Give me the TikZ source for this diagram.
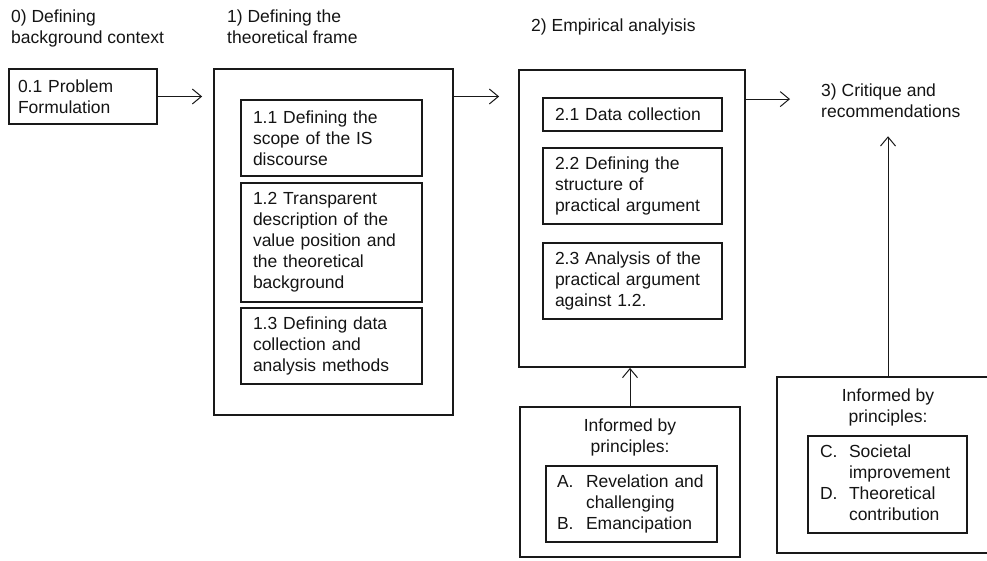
\documentclass[tikz,border=0pt]{standalone}
\usepackage{fontspec}
\setmainfont{Liberation Sans}
\usetikzlibrary{arrows.meta}
\begin{document}
\begin{tikzpicture}[x=1pt,y=-1pt,
  every node/.style={font=\fontsize{17.5}{21}\selectfont, text=black!92},
  obox/.style={draw=black!90, line width=1.8pt, inner sep=0pt, rectangle},
  ibox/.style={draw=black!90, line width=1.3pt, inner xsep=12pt, inner ysep=0pt, align=left},
  ttl/.style={inner sep=0pt, align=left, anchor=north west},
  hdr/.style={inner sep=0pt, align=center, anchor=north},
  arr/.style={draw=black!90, -{Straight Barb[length=9pt,width=15pt]}, line width=1pt}]
\useasboundingbox (0,0) rectangle (987,561);
\clip (0,0) rectangle (987,561);

% stage headings
\node[ttl] (t0) at (11,10) {0) Defining\\background context};
\node[ttl] (t1) at (227,10) {1) Defining the\\theoretical frame};
\node[ttl] (t2) at (531,19) {2) Empirical analyisis};
\node[ttl] (t3) at (821,84) {3) Critique and\\recommendations};

% 0) problem formulation
\node[ibox, inner xsep=9pt, minimum width=148pt, minimum height=55pt, text width=130pt]
  (p01) at (83,96.5) {0.1 Problem\\Formulation};

% 1) theoretical frame
\node[obox, minimum width=239pt, minimum height=346pt] (b1) at (333.5,242) {};
\node[ibox, minimum width=181pt, minimum height=76pt, text width=157pt]
  (b11) at (331.5,138) {1.1 Defining the\\scope of the IS\\discourse};
\node[ibox, minimum width=181pt, minimum height=119pt, text width=157pt]
  (b12) at (331.5,242.5) {1.2 Transparent\\description of the\\value position and\\the theoretical\\background};
\node[ibox, minimum width=181pt, minimum height=76pt, text width=157pt]
  (b13) at (331.5,346) {1.3 Defining data\\collection and\\analysis methods};

% 2) empirical analysis
\node[obox, minimum width=226pt, minimum height=297pt] (b2) at (632,218.5) {};
\node[ibox, minimum width=179pt, minimum height=33pt, text width=155pt]
  (b21) at (632.5,114.5) {2.1 Data collection};
\node[ibox, minimum width=179pt, minimum height=76pt, text width=155pt]
  (b22) at (632.5,186) {2.2 Defining the\\structure of\\practical argument};
\node[ibox, minimum width=179pt, minimum height=76pt, text width=155pt]
  (b23) at (632.5,281) {2.3 Analysis of the\\practical argument\\against 1.2.};

% principles informing the empirical analysis
\node[obox, minimum width=220pt, minimum height=150pt] (b3) at (630,482) {};
\node[hdr] (b3t) at (630,419) {Informed by\\principles:};
\node[ibox, inner xsep=11pt, minimum width=171pt, minimum height=76pt, text width=149pt]
  (b3in) at (631.5,504)
  {\begin{tabular}{@{}p{29pt}@{}l@{}}A.&Revelation and\\&challenging\\B.&Emancipation\end{tabular}};

% principles informing the critique
\node[obox, minimum width=222pt, minimum height=176pt] (b4) at (888,465) {};
\node[hdr] (b4t) at (888,389) {Informed by\\principles:};
\node[ibox, minimum width=159pt, minimum height=97pt, text width=135pt]
  (b4in) at (887.5,484.5)
  {\begin{tabular}{@{}p{29pt}@{}l@{}}C.&Societal\\&improvement\\D.&Theoretical\\&contribution\end{tabular}};

% flow between stages
\draw[arr, shorten >=11pt] (p01.east) -- (p01.east -| b1.west);
\draw[arr, shorten >=19pt] (b1.east |- p01.east) -- (b2.west |- p01.east);
\coordinate (c2) at ([yshift=-30pt]b2.north east);
\draw[arr, shorten >=31pt] (c2) -- (c2 -| t3.west);
\draw[arr] (b3.north) -- (b3.north |- b2.south);
\draw[arr, shorten >=18pt] (b4.north) -- (b4.north |- t3.south);
\end{tikzpicture}
\end{document}
